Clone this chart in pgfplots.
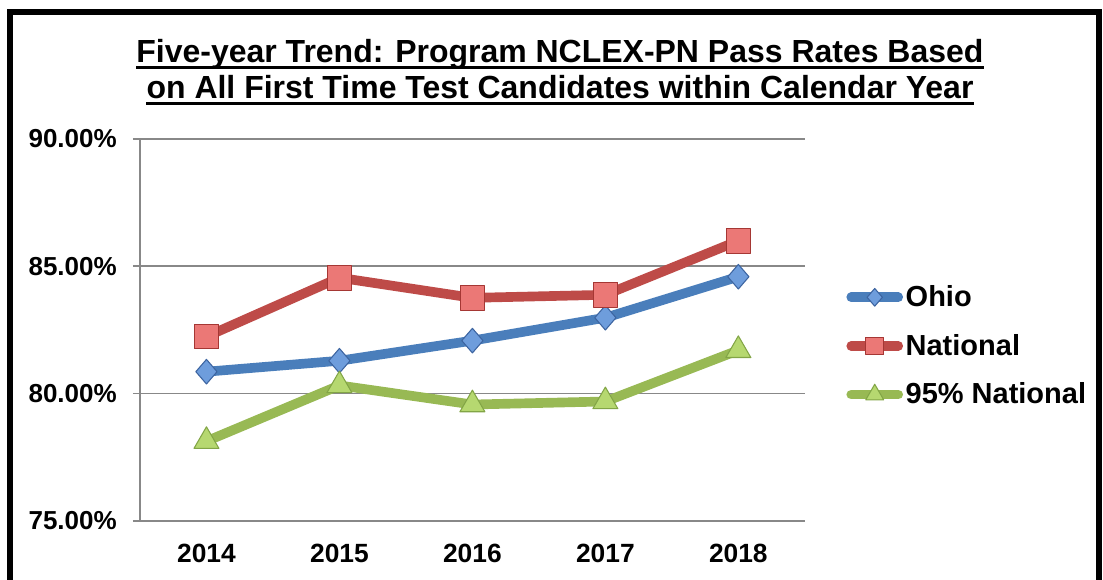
\documentclass[border=0pt]{standalone}
\usepackage{fontspec}
\setmainfont{Liberation Sans}
\usepackage{pgfplots}
\pgfplotsset{compat=1.18}
\definecolor{axisgray}{RGB}{136,136,136}
\definecolor{ohioln}{RGB}{74,126,187}
\definecolor{ohiofill}{RGB}{110,157,220}
\definecolor{ohioedge}{RGB}{60,100,160}
\definecolor{natln}{RGB}{190,75,72}
\definecolor{natfill}{RGB}{235,120,118}
\definecolor{natedge}{RGB}{165,55,52}
\definecolor{grnln}{RGB}{152,185,84}
\definecolor{grnfill}{RGB}{182,216,112}
\definecolor{grnedge}{RGB}{130,165,70}

\begin{document}
\begin{tikzpicture}[x=0.02cm,y=-0.02cm]
\useasboundingbox (0,0) rectangle (1103,580);
\begin{scope}
\clip (0,0) rectangle (1103,580);
\draw[line width=0.11cm] (10,12) rectangle (1099,650);
\end{scope}
% title, underlined by hand
\node[font=\bfseries\fontsize{18.2}{21}\selectfont,anchor=base,inner sep=0pt] (t1) at (560,63) {Five-year Trend: Program NCLEX-PN Pass Rates Based};
\node[font=\bfseries\fontsize{18.2}{21}\selectfont,anchor=base,inner sep=0pt] (t2) at (560,99) {on All First Time Test Candidates within Calendar Year};
\draw[line width=1.6pt] ([yshift=-2.6pt]t1.base west) -- ([yshift=-2.6pt]t1.base east);
\draw[line width=1.6pt] ([yshift=-2.6pt]t2.base west) -- ([yshift=-2.6pt]t2.base east);
\begin{axis}[at={(2.8cm,-10.42cm)},anchor=south west,scale only axis,
  width=13.3cm,height=7.64cm,
  xmin=-0.5,xmax=4.5,ymin=75,ymax=90,
  axis x line=bottom,axis y line=left,
  axis line style={-,axisgray,line width=1pt},
  ymajorgrids,grid style={axisgray,line width=1pt},
  tick align=outside,major tick length=0.14cm,
  tick style={axisgray,line width=1pt},
  ytick={75,80,85,90},
  yticklabel={\pgfmathprintnumber[fixed,fixed zerofill,precision=2]{\tick}\%},
  /pgf/number format/assume math mode=true,
  tick label style={font=\bfseries\fontsize{14.8}{17}\selectfont,black},
  yticklabel style={xshift=-0.2cm},
  xtick={0,1,2,3,4},
  xticklabels={2014,2015,2016,2017,2018},
  xtick style={draw=none},
  xticklabel style={yshift=-0.2cm,font=\bfseries\fontsize{15}{17}\selectfont},
  extra x ticks={-0.5,0.5,1.5,2.5,3.5,4.5},
  extra x tick labels={},
  extra x tick style={tick style={draw=axisgray,line width=1pt}},
  legend style={draw=none,fill=none,inner sep=0pt,at={(1.062,0.458)},anchor=west,
    row sep=0.36cm,font=\bfseries\fontsize{16.5}{19}\selectfont,
    nodes={inner xsep=1.5pt}},
  legend cell align=left,
  legend image code/.code={\draw[mark repeat=2,mark phase=2,line cap=round,#1,every mark/.append style={scale=0.72}] plot coordinates {(0cm,0cm)(0.47cm,0cm)(0.94cm,0cm)};},
]
\addplot[ohioln,line width=5.5pt,line join=round,mark=diamond*,mark size=7pt,
  mark options={fill=ohiofill,draw=ohioedge,line width=0.6pt,xscale=1.15}]
  coordinates {(0,80.86) (1,81.29) (2,82.08) (3,82.98) (4,84.59)};
\addplot[natln,line width=5.5pt,line join=round,mark=square*,mark size=7pt,
  mark options={fill=natfill,draw=natedge,line width=0.6pt}]
  coordinates {(0,82.24) (1,84.55) (2,83.76) (3,83.88) (4,86.00)};
\addplot[grnln,line width=5.5pt,line join=round,mark=triangle*,mark size=8.2pt,
  mark options={fill=grnfill,draw=grnedge,line width=0.6pt}]
  coordinates {(0,78.13) (1,80.32) (2,79.57) (3,79.69) (4,81.70)};
\legend{Ohio,National,95\% National}
\end{axis}
\end{tikzpicture}
\end{document}
